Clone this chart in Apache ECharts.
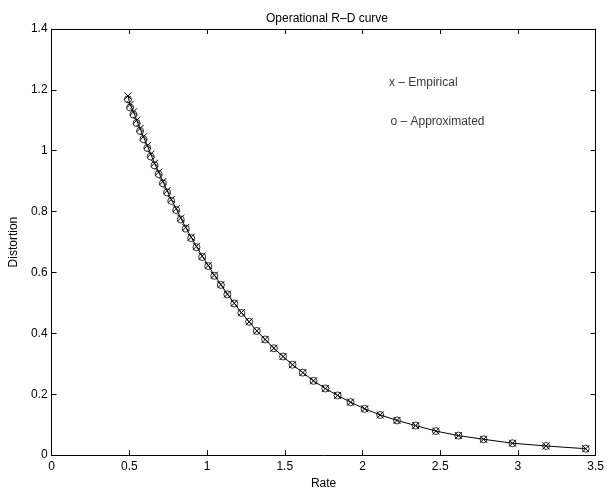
<!DOCTYPE html>
<html>
<head>
<meta charset="utf-8">
<script src="https://cdn.jsdelivr.net/npm/echarts@6/dist/echarts.min.js"></script>
<style>
html,body{margin:0;padding:0;background:#fff;}
#chart{width:607px;height:495px;}
</style>
</head>
<body>
<div id="chart"></div>
<script>
var rate = [0.491,0.505,0.527,0.547,0.569,0.591,0.616,0.638,0.662,0.689,0.716,0.743,0.770,0.802,0.831,0.863,0.898,0.932,0.969,1.008,1.047,1.089,1.131,1.175,1.221,1.271,1.320,1.374,1.430,1.489,1.550,1.616,1.685,1.761,1.840,1.923,2.014,2.114,2.222,2.342,2.472,2.617,2.779,2.965,3.181,3.436];
var approxDist = [1.169,1.142,1.119,1.091,1.065,1.038,1.009,0.981,0.952,0.923,0.893,0.863,0.835,0.805,0.774,0.744,0.713,0.683,0.651,0.621,0.589,0.559,0.528,0.498,0.467,0.438,0.408,0.380,0.351,0.324,0.297,0.271,0.244,0.219,0.196,0.174,0.152,0.132,0.114,0.097,0.079,0.064,0.052,0.039,0.030,0.021];
var empiricalDist = [1.180,1.152,1.128,1.100,1.073,1.046,1.017,0.989,0.959,0.930,0.899,0.869,0.840,0.810,0.779,0.748,0.716,0.686,0.654,0.623,0.591,0.560,0.529,0.499,0.468,0.438,0.408,0.380,0.351,0.324,0.297,0.271,0.244,0.219,0.196,0.174,0.152,0.132,0.114,0.097,0.079,0.064,0.052,0.039,0.030,0.021];
var xTickLabels = ['0','0.5','1','1.5','2','2.5','3','3.5'];
var yTickLabels = ['0','0.2','0.4','0.6','0.8','1','1.2','1.4'];
var titleText = 'Operational R\u2013D curve';
var xName = 'Rate';
var yName = 'Distortion';
var noteEmpirical = 'x \u2013 Empirical';
var noteApprox = 'o \u2013 Approximated';
var notePos = [[2.17, 1.224], [2.18, 1.097]];

var FONT = 'Liberation Sans, Arial, Helvetica, sans-serif';
var empData = rate.map(function(r, i){ return [r, empiricalDist[i]]; });
var appData = rate.map(function(r, i){ return [r, approxDist[i]]; });

function xFmt(v){ var i = Math.round(v / 0.5); return xTickLabels[i] !== undefined ? xTickLabels[i] : ''; }
function yFmt(v){ var i = Math.round(v / 0.2); return yTickLabels[i] !== undefined ? yTickLabels[i] : ''; }

var axisLineStyle = {show:true, onZero:false, lineStyle:{color:'#000', width:1}};
var tickInside = {show:true, inside:true, length:5, lineStyle:{color:'#000', width:1}};

var chart = echarts.init(document.getElementById('chart'), null, {renderer:'canvas'});
chart.setOption({
  animation:false,
  backgroundColor:'#fff',
  title:{
    text:titleText, left:322, top:8, textAlign:'center',
    textStyle:{fontFamily:FONT, fontSize:12, fontWeight:'normal', color:'#000'}
  },
  grid:{left:46, right:9, top:29, bottom:31, containLabel:false},
  xAxis:[
    {type:'value', min:0, max:3.5, interval:0.5, position:'bottom',
     axisLine:axisLineStyle, axisTick:tickInside, splitLine:{show:false},
     axisLabel:{formatter:xFmt, color:'#000', fontFamily:FONT, fontSize:12, margin:6},
     name:xName, nameLocation:'middle', nameGap:19,
     nameTextStyle:{color:'#000', fontFamily:FONT, fontSize:12}},
    {type:'value', min:0, max:3.5, interval:0.5, position:'top',
     axisLine:axisLineStyle, axisTick:tickInside, splitLine:{show:false},
     axisLabel:{show:false}}
  ],
  yAxis:[
    {type:'value', min:0, max:1.4, interval:0.2, position:'left',
     axisLine:axisLineStyle, axisTick:tickInside, splitLine:{show:false},
     axisLabel:{formatter:yFmt, color:'#000', fontFamily:FONT, fontSize:12, margin:4},
     name:yName, nameLocation:'middle', nameGap:25,
     nameTextStyle:{color:'#000', fontFamily:FONT, fontSize:12}},
    {type:'value', min:0, max:1.4, interval:0.2, position:'right',
     axisLine:axisLineStyle, axisTick:tickInside, splitLine:{show:false},
     axisLabel:{show:false}}
  ],
  series:[
    {name:'Empirical', type:'line', data:empData, xAxisIndex:0, yAxisIndex:0,
     symbol:'path://M0,0L10,10M0,10L10,0', symbolSize:7, showSymbol:true,
     lineStyle:{color:'#000', width:1},
     itemStyle:{color:'none', borderColor:'#000', borderWidth:1},
     emphasis:{disabled:true}, silent:true, z:3},
    {name:'Approximated', type:'scatter', data:appData, xAxisIndex:0, yAxisIndex:0,
     symbol:'circle', symbolSize:7,
     itemStyle:{color:'rgba(0,0,0,0)', borderColor:'#000', borderWidth:1},
     emphasis:{disabled:true}, silent:true, z:4},
    {name:'notes', type:'scatter', xAxisIndex:0, yAxisIndex:0,
     data:[
       {value:notePos[0], label:{formatter:noteEmpirical}},
       {value:notePos[1], label:{formatter:noteApprox}}
     ],
     symbolSize:0, silent:true,
     label:{show:true, position:'right', distance:0, color:'#000', fontFamily:FONT, fontSize:12}}
  ]
});
</script>
</body>
</html>
